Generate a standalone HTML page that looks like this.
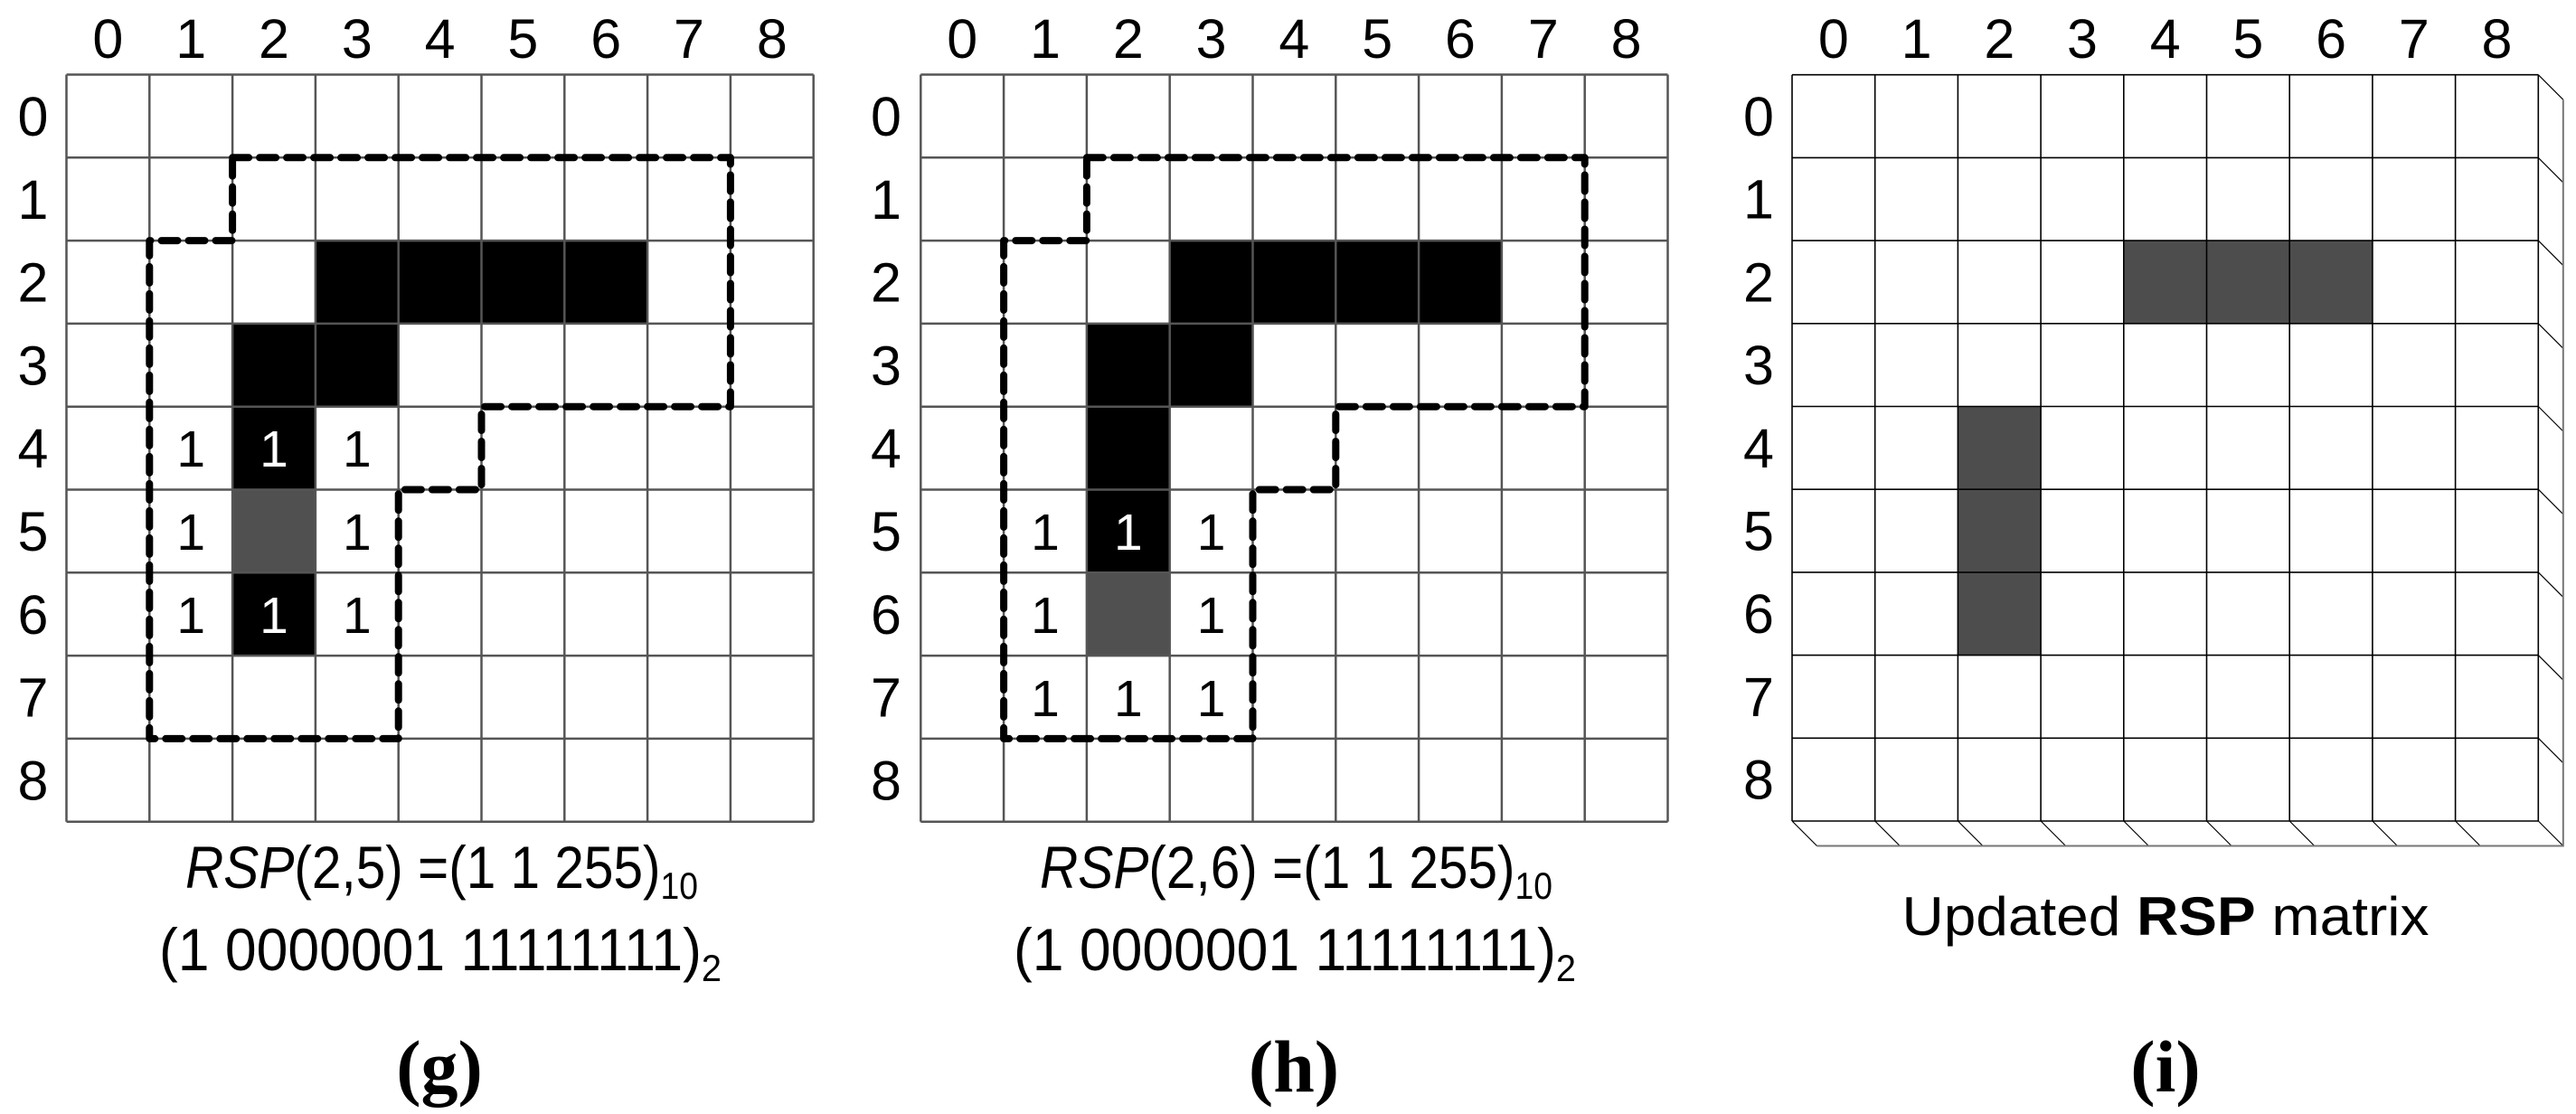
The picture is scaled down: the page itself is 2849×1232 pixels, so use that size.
<!DOCTYPE html>
<html><head><meta charset="utf-8"><style>
html,body{margin:0;padding:0;background:#fff;width:2849px;height:1232px;overflow:hidden}
svg{display:block}
text{font-family:"Liberation Sans",Arial,sans-serif;fill:#000}
.lab{font-size:61px;text-anchor:middle}
.one{font-size:57px;text-anchor:middle}
.w{fill:#fff}
.cap{font-size:66px}
.fig{font-family:"Liberation Serif",serif;font-weight:bold;font-size:82px;text-anchor:middle}
</style></head><body>
<svg width="2849" height="1232" viewBox="0 0 2849 1232" xmlns="http://www.w3.org/2000/svg">
<!-- ===== (g) ===== -->
<g transform="translate(73.5,82.5) scale(91.8)">
  <rect x="3" y="2" width="4" height="1" fill="#000"/>
  <rect x="2" y="3" width="2" height="1" fill="#000"/>
  <rect x="2" y="4" width="1" height="1" fill="#000"/>
  <rect x="2" y="5" width="1" height="1" fill="#505050"/>
  <rect x="2" y="6" width="1" height="1" fill="#000"/>
  <path d="M0,0V9M1,0V9M2,0V9M3,0V9M4,0V9M5,0V9M6,0V9M7,0V9M8,0V9M9,0V9M0,0H9M0,1H9M0,2H9M0,3H9M0,4H9M0,5H9M0,6H9M0,7H9M0,8H9M0,9H9" stroke="#555" stroke-width="2.5" fill="none" vector-effect="non-scaling-stroke"/>
</g>
<path d="M257.1,174.3 H807.9 V449.7 H532.5 V541.5 H440.7 V816.9 H165.3 V266.1 H257.1 Z" fill="none" stroke="#000" stroke-width="8" stroke-dasharray="18 12" stroke-linecap="round" stroke-linejoin="round"/>
<text x="119.4" y="64" class="lab">0</text><text x="211.2" y="64" class="lab">1</text><text x="303" y="64" class="lab">2</text><text x="394.8" y="64" class="lab">3</text><text x="486.6" y="64" class="lab">4</text><text x="578.4" y="64" class="lab">5</text><text x="670.2" y="64" class="lab">6</text><text x="762" y="64" class="lab">7</text><text x="853.8" y="64" class="lab">8</text>
<text x="36.5" y="150" class="lab">0</text><text x="36.5" y="241.8" class="lab">1</text><text x="36.5" y="333.6" class="lab">2</text><text x="36.5" y="425.4" class="lab">3</text><text x="36.5" y="517.2" class="lab">4</text><text x="36.5" y="609" class="lab">5</text><text x="36.5" y="700.8" class="lab">6</text><text x="36.5" y="792.6" class="lab">7</text><text x="36.5" y="884.4" class="lab">8</text>
<text x="211.2" y="516" class="one">1</text><text x="303" y="516" class="one w">1</text><text x="394.8" y="516" class="one">1</text>
<text x="211.2" y="608" class="one">1</text><text x="394.8" y="608" class="one">1</text>
<text x="211.2" y="700" class="one">1</text><text x="303" y="700" class="one w">1</text><text x="394.8" y="700" class="one">1</text>
<text x="205" y="982" class="cap" textLength="567" lengthAdjust="spacingAndGlyphs"><tspan font-style="italic">RSP</tspan>(2,5) =(1 1 255)<tspan font-size="42" dy="12">10</tspan></text>
<text x="176" y="1073" class="cap" textLength="622" lengthAdjust="spacingAndGlyphs">(1 0000001 11111111)<tspan font-size="42" dy="12">2</tspan></text>
<text x="486" y="1207" class="fig">(g)</text>

<!-- ===== (h) ===== -->
<g transform="translate(1018.3,82.5) scale(91.8)">
  <rect x="3" y="2" width="4" height="1" fill="#000"/>
  <rect x="2" y="3" width="2" height="1" fill="#000"/>
  <rect x="2" y="4" width="1" height="2" fill="#000"/>
  <rect x="2" y="6" width="1" height="1" fill="#505050"/>
  <path d="M0,0V9M1,0V9M2,0V9M3,0V9M4,0V9M5,0V9M6,0V9M7,0V9M8,0V9M9,0V9M0,0H9M0,1H9M0,2H9M0,3H9M0,4H9M0,5H9M0,6H9M0,7H9M0,8H9M0,9H9" stroke="#555" stroke-width="2.5" fill="none" vector-effect="non-scaling-stroke"/>
</g>
<path d="M1201.9,174.3 H1752.7 V449.7 H1477.3 V541.5 H1385.5 V816.9 H1110.1 V266.1 H1201.9 Z" fill="none" stroke="#000" stroke-width="8" stroke-dasharray="18 12" stroke-linecap="round" stroke-linejoin="round"/>
<text x="1064.2" y="64" class="lab">0</text><text x="1156" y="64" class="lab">1</text><text x="1247.8" y="64" class="lab">2</text><text x="1339.6" y="64" class="lab">3</text><text x="1431.4" y="64" class="lab">4</text><text x="1523.2" y="64" class="lab">5</text><text x="1615" y="64" class="lab">6</text><text x="1706.8" y="64" class="lab">7</text><text x="1798.6" y="64" class="lab">8</text>
<text x="980" y="150" class="lab">0</text><text x="980" y="241.8" class="lab">1</text><text x="980" y="333.6" class="lab">2</text><text x="980" y="425.4" class="lab">3</text><text x="980" y="517.2" class="lab">4</text><text x="980" y="609" class="lab">5</text><text x="980" y="700.8" class="lab">6</text><text x="980" y="792.6" class="lab">7</text><text x="980" y="884.4" class="lab">8</text>
<text x="1156" y="608" class="one">1</text><text x="1247.8" y="608" class="one w">1</text><text x="1339.6" y="608" class="one">1</text>
<text x="1156" y="700" class="one">1</text><text x="1339.6" y="700" class="one">1</text>
<text x="1156" y="792" class="one">1</text><text x="1247.8" y="792" class="one">1</text><text x="1339.6" y="792" class="one">1</text>
<text x="1150" y="982" class="cap" textLength="567" lengthAdjust="spacingAndGlyphs"><tspan font-style="italic">RSP</tspan>(2,6) =(1 1 255)<tspan font-size="42" dy="12">10</tspan></text>
<text x="1121" y="1073" class="cap" textLength="622" lengthAdjust="spacingAndGlyphs">(1 0000001 11111111)<tspan font-size="42" dy="12">2</tspan></text>
<text x="1431" y="1207" class="fig">(h)</text>

<!-- ===== (i) ===== -->
<g transform="translate(1982,82.7) scale(91.7)">
  <rect x="4" y="2" width="3" height="1" fill="#4d4d4d"/>
  <rect x="2" y="4" width="1" height="3" fill="#4d4d4d"/>
  <path d="M0,0V9M1,0V9M2,0V9M3,0V9M4,0V9M5,0V9M6,0V9M7,0V9M8,0V9M9,0V9M0,0H9M0,1H9M0,2H9M0,3H9M0,4H9M0,5H9M0,6H9M0,7H9M0,8H9M0,9H9" stroke="#000" stroke-width="1.6" fill="none" vector-effect="non-scaling-stroke"/>
  <path d="M9,0l0.3,0.3M9,1l0.3,0.3M9,2l0.3,0.3M9,3l0.3,0.3M9,4l0.3,0.3M9,5l0.3,0.3M9,6l0.3,0.3M9,7l0.3,0.3M9,8l0.3,0.3M9,9l0.3,0.3M0,9l0.3,0.3M1,9l0.3,0.3M2,9l0.3,0.3M3,9l0.3,0.3M4,9l0.3,0.3M5,9l0.3,0.3M6,9l0.3,0.3M7,9l0.3,0.3M8,9l0.3,0.3" stroke="#000" stroke-width="1.2" fill="none" vector-effect="non-scaling-stroke"/>
  <path d="M9.3,0.3V9.3H0.3" stroke="#777" stroke-width="2" fill="none" vector-effect="non-scaling-stroke"/>
</g>
<text x="2027.9" y="64" class="lab">0</text><text x="2119.6" y="64" class="lab">1</text><text x="2211.3" y="64" class="lab">2</text><text x="2303" y="64" class="lab">3</text><text x="2394.7" y="64" class="lab">4</text><text x="2486.4" y="64" class="lab">5</text><text x="2578.1" y="64" class="lab">6</text><text x="2669.8" y="64" class="lab">7</text><text x="2761.5" y="64" class="lab">8</text>
<text x="1945" y="150" class="lab">0</text><text x="1945" y="241.7" class="lab">1</text><text x="1945" y="333.4" class="lab">2</text><text x="1945" y="425.1" class="lab">3</text><text x="1945" y="516.8" class="lab">4</text><text x="1945" y="608.5" class="lab">5</text><text x="1945" y="700.2" class="lab">6</text><text x="1945" y="791.9" class="lab">7</text><text x="1945" y="883.6" class="lab">8</text>
<text x="2395" y="1034" style="font-size:60px;text-anchor:middle" textLength="583" lengthAdjust="spacingAndGlyphs">Updated <tspan font-weight="bold">RSP</tspan> matrix</text>
<text x="2395" y="1207" class="fig">(i)</text>
</svg>
</body></html>
